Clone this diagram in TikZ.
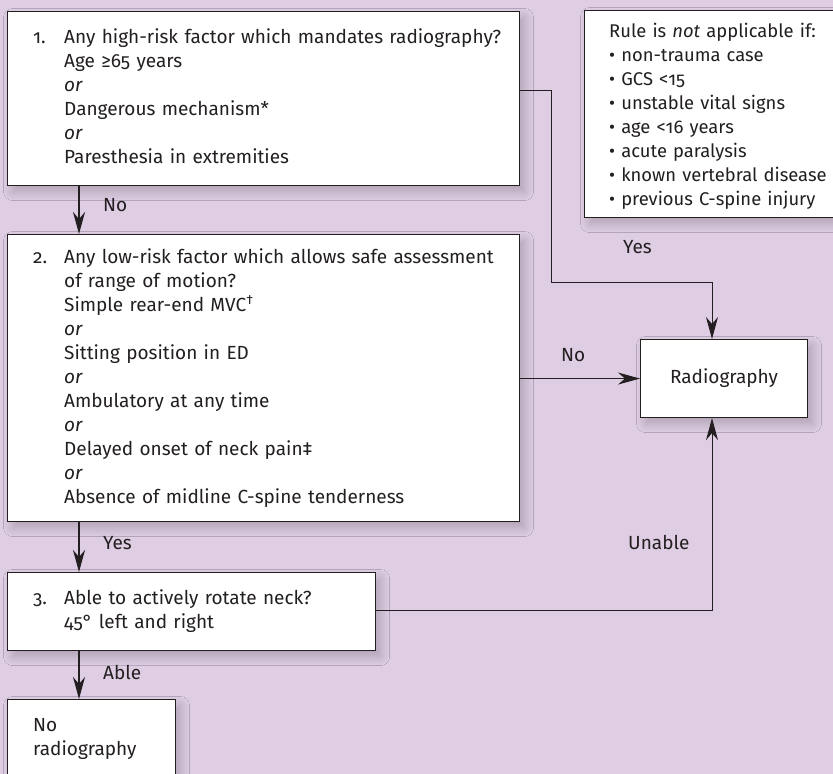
\documentclass[tikz,border=0pt]{standalone}
\usepackage{fontspec}
\setmainfont{Fira Sans}[Numbers=OldStyle]
\usetikzlibrary{arrows.meta,shadows.blur}
\definecolor{bg}{RGB}{222,205,227}
\definecolor{ink}{RGB}{35,31,32}
\begin{document}
\begin{tikzpicture}[x=1pt,y=-1pt,
  box/.style={draw=ink, line width=1.1pt, fill=white, rectangle, inner sep=0pt, anchor=north west,
    blur shadow={shadow xshift=5pt, shadow yshift=-6pt, shadow blur radius=9pt, shadow blur steps=14, shadow opacity=22}},
  txt/.style={inner sep=0pt, anchor=base west, align=left, text=ink,
    font=\fontsize{19}{24}\selectfont},
  rtxt/.style={txt, font=\fontsize{18.4}{24}\selectfont},
  lab/.style={inner sep=0pt, anchor=base west, text=ink, font=\fontsize{19}{24}\selectfont},
  tip/.style={-{Stealth[length=22pt,width=12pt,inset=7pt]}},
  downarr/.style={tip, draw=ink, line width=1.8pt},
  sidearr/.style={tip, draw=ink, line width=1pt},
  conn/.style={draw=ink, line width=1pt}]
\clip (0,0) rectangle (833,774);
\fill[bg] (0,0) rectangle (833,774);

% boxes
\node[box, minimum width=512pt, minimum height=174pt] (b1) at (7,11) {};
\node[box, minimum width=512pt, minimum height=287pt] (b2) at (7,234) {};
\node[box, minimum width=368pt, minimum height=78pt] (b3) at (7,572) {};
\node[box, minimum width=168pt, minimum height=95pt] (b4) at (7,699) {};
\node[box, minimum width=270pt, minimum height=207pt] (rule) at (584,10) {};
\node[box, minimum width=167pt, minimum height=78pt, text=ink,
      font=\fontsize{19}{24}\selectfont, anchor=north west] (rad) at (640,339) {Radiography};

% box texts
\node[txt] (n1) at (33,43) {1.};
\node[txt, text width=450pt] (t1) at (64,43) {Any high-risk factor which mandates radiography?\\
Age ≥65 years\\
\textit{or}\\
Dangerous mechanism*\\
\textit{or}\\
Paresthesia in extremities};

\node[txt] (n2) at (33,263) {2.};
\node[txt, text width=450pt] (t2) at (64,263) {Any low-risk factor which allows safe assessment\\
of range of motion?\\
Simple rear-end MVC\textsuperscript{†}\\
\textit{or}\\
Sitting position in ED\\
\textit{or}\\
Ambulatory at any time\\
\textit{or}\\
Delayed onset of neck pain‡\\
\textit{or}\\
Absence of midline C-spine tenderness};

\node[txt] (n3) at (33,604) {3.};
\node[txt, text width=300pt] (t3) at (64,604) {Able to actively rotate neck?\\
45° left and right};

\node[txt, text width=150pt] (t4) at (33,731) {No\\radiography};

\node[rtxt, text width=240pt] (tr) at (609,37) {Rule is \textit{not} applicable if:\\
• non-trauma case\\
• GCS <15\\
• unstable vital signs\\
• age <16 years\\
• acute paralysis\\
• known vertebral disease\\
• previous C-spine injury};

% helper coordinates
\coordinate (ax) at (79,0);
\coordinate (rx) at (712,0);
\coordinate (yesA) at (519,90);
\coordinate (yesB) at (551,90);
\coordinate (yesC) at (551,282);
\coordinate (yesD) at (712,282);
\coordinate (unB) at (712,610);

% connectors
\draw[downarr] (b1.south -| ax) -- (b2.north -| ax);
\draw[downarr] (b2.south -| ax) -- (b3.north -| ax);
\draw[downarr] (b3.south -| ax) -- (b4.north -| ax);
\draw[sidearr] (b1.east |- yesA) -- (yesB) -- (yesC) -- (yesD) -- (rad.north -| rx);
\draw[sidearr] (b2.east |- rad.west) -- (rad.west);
\draw[sidearr] (b3.east |- unB) -- (unB) -- (rad.south -| rx);

% labels
\node[lab] (lno1) at (103,211) {No};
\node[lab] (lyes1) at (103,549) {Yes};
\node[lab] (lable) at (103,679) {Able};
\node[lab] (lyes2) at (623,253) {Yes};
\node[lab] (lno2) at (561,361) {No};
\node[lab] (lun) at (628,549) {Unable};
\end{tikzpicture}
\end{document}
